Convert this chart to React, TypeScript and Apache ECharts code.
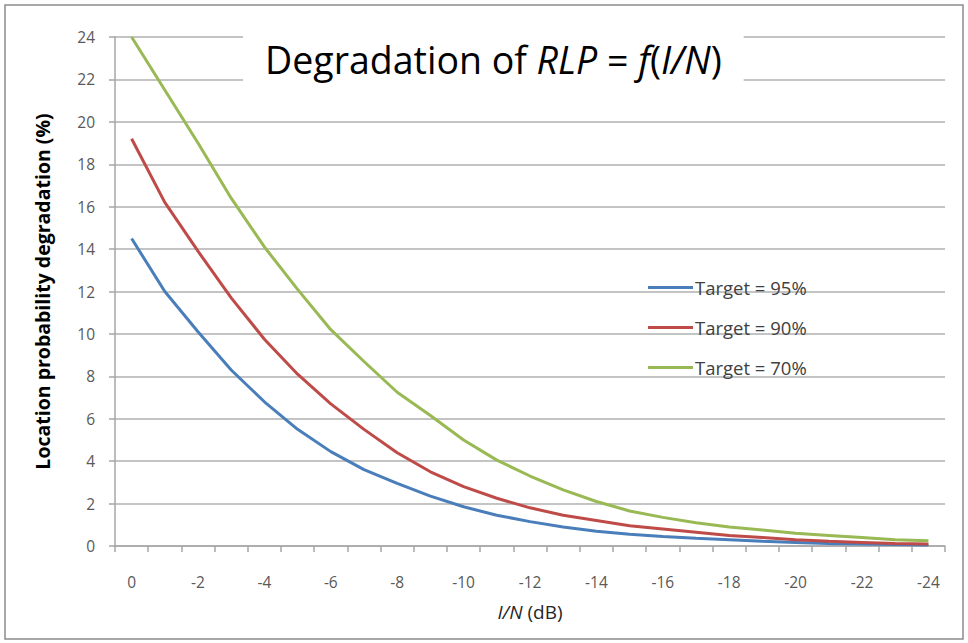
import React, { useEffect, useRef } from "react";
import * as echarts from "echarts";

const categories = ["0", "-1", "-2", "-3", "-4", "-5", "-6", "-7", "-8", "-9", "-10", "-11", "-12", "-13", "-14", "-15", "-16", "-17", "-18", "-19", "-20", "-21", "-22", "-23", "-24"];

const target95 = [14.5, 12.0, 10.1, 8.3, 6.8, 5.5, 4.45, 3.6, 2.95, 2.35, 1.85, 1.45, 1.15, 0.9, 0.7, 0.55, 0.45, 0.37, 0.3, 0.22, 0.17, 0.12, 0.1, 0.07, 0.05];
const target90 = [19.2, 16.2, 13.9, 11.7, 9.75, 8.1, 6.7, 5.5, 4.4, 3.5, 2.8, 2.25, 1.8, 1.45, 1.2, 0.95, 0.8, 0.65, 0.5, 0.4, 0.3, 0.22, 0.17, 0.12, 0.1];
const target70 = [24.0, 21.5, 19.0, 16.4, 14.1, 12.1, 10.2, 8.7, 7.25, 6.15, 5.0, 4.05, 3.3, 2.65, 2.1, 1.65, 1.35, 1.1, 0.9, 0.75, 0.6, 0.5, 0.4, 0.3, 0.25];

const seriesNames = ["Target = 95%", "Target = 90%", "Target = 70%"];
const seriesColors = ["#4A7EBB", "#BE4B48", "#98B954"];

const FONT = "'Open Sans', 'Noto Sans', sans-serif";

export default function App() {
  const ref = useRef<HTMLDivElement>(null);
  useEffect(() => {
    if (!ref.current) return;
    const chart = echarts.init(ref.current, undefined, { renderer: "svg" });
    const datasets = [target95, target90, target70];
    chart.setOption({
      animation: false,
      backgroundColor: "#ffffff",
      title: {
        text: "{n|Degradation of }{i|RLP}{n| = }{i|f}{n|(}{i|I/N}{n|)}",
        left: 243,
        top: 31,
        padding: [9, 22, 13, 22],
        backgroundColor: "#ffffff",
        textStyle: {
          fontFamily: FONT,
          fontSize: 37.5,
          fontWeight: "normal",
          color: "#000000",
          rich: {
            n: { fontFamily: FONT, fontSize: 37.5, color: "#000000" },
            i: { fontFamily: FONT, fontSize: 37.5, fontStyle: "italic", color: "#000000" },
          },
        },
        z: 10,
      },
      legend: {
        orient: "vertical",
        left: 648,
        top: 278,
        padding: 0,
        icon: "rect",
        itemWidth: 45,
        itemHeight: 3,
        itemGap: 21,
        textStyle: { fontFamily: FONT, fontSize: 18.5, lineHeight: 18, color: "#404040", padding: [0, 0, 0, -3] },
        data: seriesNames,
      },
      grid: {
        left: 115,
        right: 23,
        top: 37,
        bottom: 97,
        outerBoundsMode: "none",
      },
      xAxis: {
        type: "category",
        data: categories,
        boundaryGap: true,
        name: "{i|I/N} (dB)",
        nameLocation: "middle",
        nameGap: 56,
        nameTextStyle: {
          fontFamily: FONT,
          fontSize: 19,
          color: "#262626",
          rich: { i: { fontFamily: FONT, fontSize: 19, fontStyle: "italic", color: "#262626" } },
        },
        axisLine: { show: true, lineStyle: { color: "#a6a6a6", width: 1.5 } },
        axisTick: { show: true, interval: 0, length: 6, lineStyle: { color: "#a6a6a6", width: 1.5 } },
        axisLabel: { interval: 1, margin: 28, fontFamily: FONT, fontSize: 15.5, color: "#595959" },
        splitLine: { show: false },
      },
      yAxis: {
        type: "value",
        min: 0,
        max: 24,
        interval: 2,
        name: "Location probability degradation (%)",
        nameLocation: "middle",
        nameGap: 63,
        nameTextStyle: { fontFamily: FONT, fontSize: 19.5, fontWeight: "bold", color: "#000000" },
        axisLine: { show: true, lineStyle: { color: "#a6a6a6", width: 1.5 } },
        axisTick: { show: true, length: 6, lineStyle: { color: "#a6a6a6", width: 1.5 } },
        axisLabel: { margin: 20, fontFamily: FONT, fontSize: 15.5, color: "#595959" },
        splitLine: { show: true, lineStyle: { color: "#c4c4c4", width: 1.8 } },
      },
      series: datasets.map((d, i) => ({
        name: seriesNames[i],
        type: "line",
        data: d,
        symbol: "none",
        smooth: false,
        lineStyle: { color: seriesColors[i], width: 3 },
        itemStyle: { color: seriesColors[i] },
      })),
      graphic: [
        {
          type: "rect",
          shape: { x: 5, y: 5, width: 958, height: 634 },
          style: { fill: "none", stroke: "#8c8c8c", lineWidth: 1.5 },
          silent: true,
        },
      ],
    });
    return () => chart.dispose();
  }, []);
  return (
    <div
      ref={ref}
      style={{ position: "fixed", left: 0, top: 0, width: 968, height: 643 }}
    />
  );
}
